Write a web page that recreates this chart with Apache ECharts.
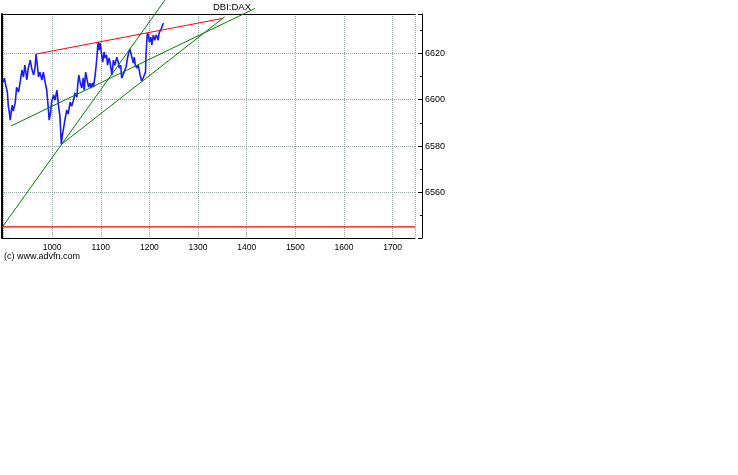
<!DOCTYPE html>
<html><head><meta charset="utf-8">
<script src="https://cdn.jsdelivr.net/npm/echarts@6/dist/echarts.min.js"></script>
<style>html,body{margin:0;padding:0;background:#fff}#c{width:738px;height:475px}</style>
</head><body><div id="c"></div>
<script>
const titleText = 'DBI:DAX';
const creditText = '(c) www.advfn.com';
const xTicks = [1000, 1100, 1200, 1300, 1400, 1500, 1600, 1700];
const yTicks = [6560, 6580, 6600, 6620];

const priceX = [899,902,905,908,910,912,914,916,918,920,924,926,927,931,934,938,941,944,948,951,955,958,962,965,967,970,972,975,979,982,986,989,992,994,997,999,1003,1006,1010,1013,1016,1019,1021,1023,1027,1030,1033,1037,1040,1044,1047,1051,1053,1055,1058,1061,1064,1066,1069,1072,1075,1078,1080,1083,1085,1088,1090,1092,1094,1095,1097,1099,1102,1104,1107,1109,1112,1114,1117,1119,1123,1126,1129,1133,1136,1138,1141,1143,1148,1152,1155,1158,1160,1162,1164,1167,1169,1171,1174,1177,1181,1184,1188,1190,1192,1193,1195,1196,1198,1200,1203,1205,1208,1211,1214,1216,1218,1220,1223,1225,1227,1229];
const priceY = [6607.6,6609.3,6605.9,6603.3,6597.2,6594.6,6591.2,6595.1,6597.7,6595.1,6598.5,6602.9,6605.4,6603.3,6607.2,6612.8,6609.8,6614.9,6608.5,6613.6,6617.1,6613.6,6610.6,6614.1,6619.7,6614.1,6609.8,6611.9,6608.5,6611.9,6607.2,6604.1,6596.8,6591.2,6594.6,6599.0,6602.0,6599.8,6604.1,6597.7,6592.9,6580.7,6584.7,6586.9,6592.0,6595.5,6593.8,6599.0,6597.2,6599.8,6602.9,6601.1,6607.2,6610.6,6607.2,6605.0,6609.3,6604.1,6611.9,6608.5,6605.4,6607.2,6605.0,6607.2,6605.4,6609.8,6613.6,6618.0,6623.6,6624.9,6621.4,6624.4,6619.3,6616.2,6620.6,6618.0,6619.3,6614.9,6618.0,6616.2,6610.6,6617.1,6614.9,6618.4,6616.2,6613.6,6614.9,6609.3,6611.9,6614.1,6618.0,6620.6,6621.9,6620.1,6619.3,6615.8,6618.4,6614.9,6613.6,6614.9,6610.6,6608.0,6609.8,6609.3,6611.9,6619.3,6626.6,6628.8,6627.9,6624.9,6627.0,6623.6,6627.9,6625.7,6627.9,6627.0,6625.7,6628.8,6629.2,6630.9,6632.2,6633.1];

const resistanceLine = [[967, 6619.7], [1351, 6635.1]];
const supportA = [[915, 6588.6], [1417, 6639.4]];
const supportB = [[899, 6545.4], [1232, 6643.0]];
const supportC = [[1019, 6580.7], [1355, 6635.8]];
const baseLine = [[897, 6545.1], [1746, 6545.1]];

const xMin = 897, xMax = 1746;
const yMin = 6540.3, yMax = 6637;

const FONT = '"Liberation Sans", Arial, sans-serif';
const chart = echarts.init(document.getElementById('c'), null, {renderer: 'canvas'});

const gridLine = {show: true, lineStyle: {color: '#8fa3a3', type: [1, 1], width: 1}};

chart.setOption({
  animation: false,
  backgroundColor: '#ffffff',
  title: {
    text: titleText, left: 213, top: 2, padding: 0,
    textStyle: {fontFamily: FONT, fontSize: 9.5, fontWeight: 'normal', color: '#000'}
  },
  graphic: [{
    type: 'text', left: 4, top: 252,
    style: {text: creditText, font: '9px ' + FONT, fill: '#000'}
  }],
  grid: {left: 2, top: 14, width: 413, height: 224, containLabel: false},
  xAxis: [{
    type: 'value', position: 'bottom', min: xMin, max: xMax,
    minInterval: 100, maxInterval: 100,
    axisLine: {show: true, onZero: false, lineStyle: {color: '#000', width: 1}},
    axisTick: {show: false},
    axisLabel: {
      show: true, margin: 5, color: '#000', fontFamily: FONT, fontSize: 8.5,
      showMinLabel: false, showMaxLabel: false,
      formatter: v => xTicks.includes(Math.round(v)) && Math.abs(v - Math.round(v)) < 1e-6 ? String(v) : ''
    },
    splitLine: gridLine
  }, {
    type: 'value', position: 'top', min: xMin, max: xMax,
    axisLine: {show: true, onZero: false, lineStyle: {color: '#000', width: 1}},
    axisTick: {show: false}, axisLabel: {show: false}, splitLine: {show: false}
  }],
  yAxis: [{
    type: 'value', position: 'right', offset: 7, min: yMin, max: yMax,
    minInterval: 20, maxInterval: 20,
    axisLine: {show: true, onZero: false, lineStyle: {color: '#000', width: 1}},
    axisTick: {show: true, inside: true, length: 4, lineStyle: {color: '#000'}},
    minorTick: {show: true, splitNumber: 2, length: 2, lineStyle: {color: '#000'}},
    axisLabel: {
      show: true, margin: 3, color: '#000', fontFamily: FONT, fontSize: 9,
      showMinLabel: false, showMaxLabel: false,
      formatter: v => yTicks.includes(Math.round(v)) && Math.abs(v - Math.round(v)) < 1e-6 ? String(v) : ''
    },
    splitLine: gridLine
  }, {
    type: 'value', position: 'left', min: yMin, max: yMax,
    axisLine: {show: true, onZero: false, lineStyle: {color: '#000', width: 2}},
    axisTick: {show: false}, axisLabel: {show: false}, splitLine: {show: false}
  }],
  series: [
    {type: 'line', name: 'base', data: baseLine, symbol: 'none', clip: false,
     lineStyle: {color: '#ff0000', width: 1.2}, z: 3},
    {type: 'line', name: 'price', data: priceX.map((x, i) => [x, priceY[i]]), symbol: 'none',
     lineStyle: {color: '#1a1aff', width: 1.6}, z: 4},
    {type: 'line', name: 'resistance', data: resistanceLine, symbol: 'none', clip: false,
     lineStyle: {color: '#ff0000', width: 1}, z: 5},
    {type: 'line', name: 'supportA', data: supportA, symbol: 'none', clip: false,
     lineStyle: {color: '#008000', width: 1}, z: 5},
    {type: 'line', name: 'supportB', data: supportB, symbol: 'none', clip: false,
     lineStyle: {color: '#008000', width: 1}, z: 5},
    {type: 'line', name: 'supportC', data: supportC, symbol: 'none', clip: false,
     lineStyle: {color: '#008000', width: 1}, z: 5}
  ]
});
</script>
</body></html>
